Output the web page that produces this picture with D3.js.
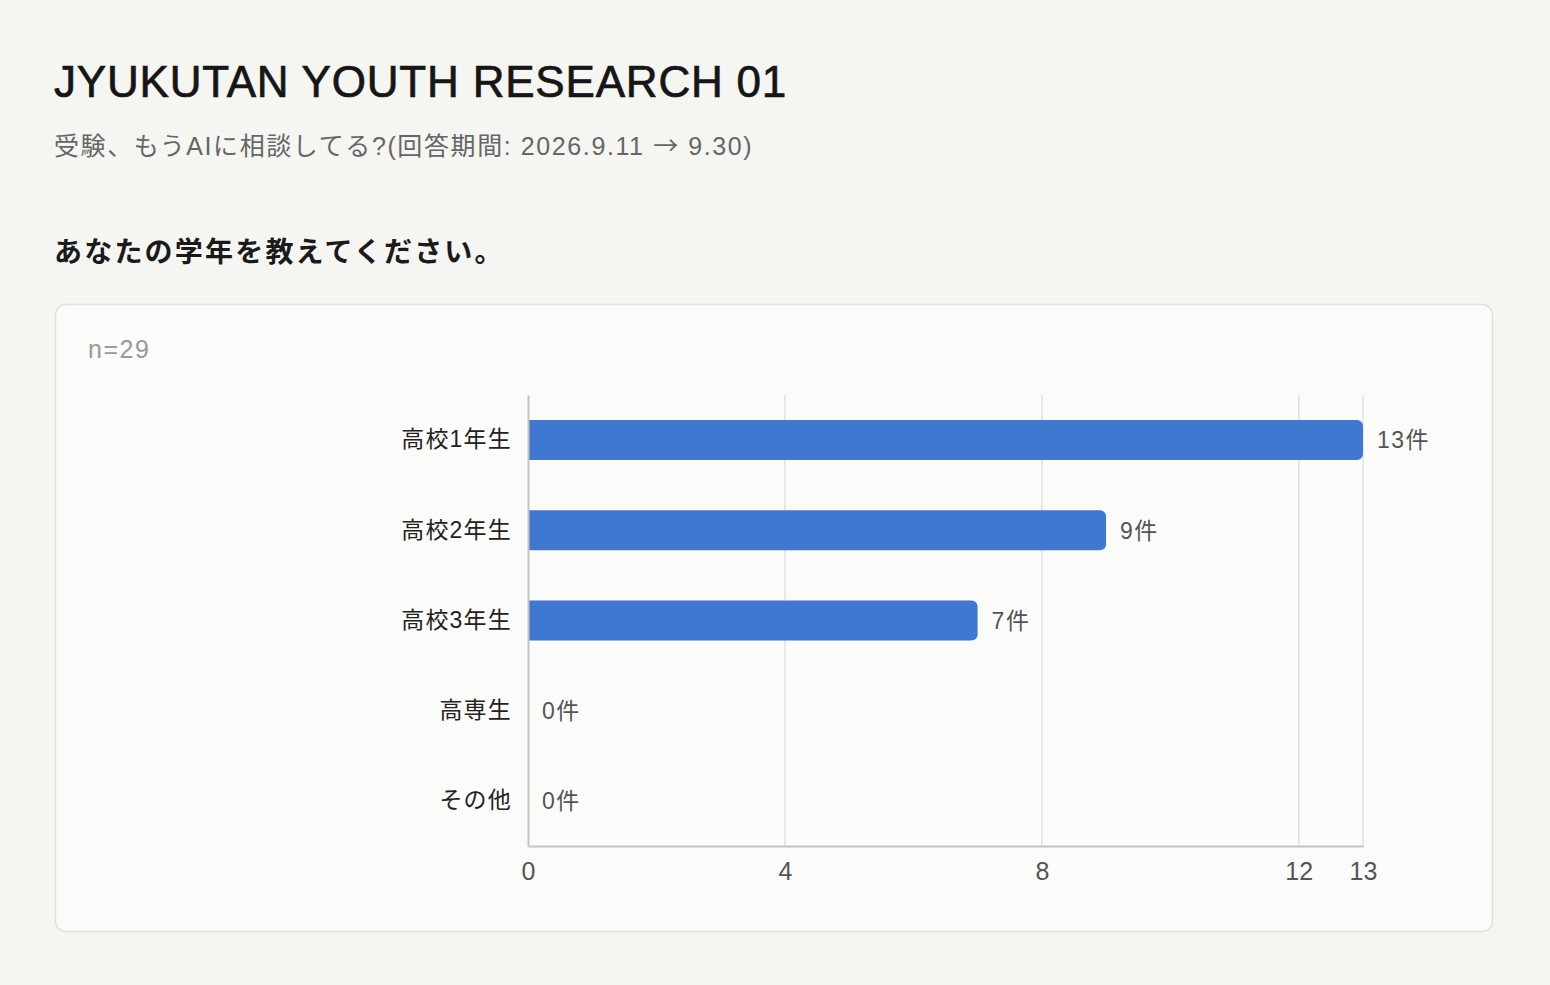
<!DOCTYPE html>
<html>
<head>
<meta charset="utf-8">
<script src="https://cdn.jsdelivr.net/npm/d3@7"></script>
<style>
  html, body { margin: 0; padding: 0; background: #f5f5f2; }
  body { width: 1550px; height: 985px; overflow: hidden; }
  text { font-family: "Liberation Sans", "Noto Sans CJK JP", sans-serif; }
</style>
</head>
<body>
<div id="graf"></div>
<script>
const titulo = 'JYUKUTAN YOUTH RESEARCH 01'
const subtitulo = ['受験、もうAIに相談してる?(回答期間: 2026.9.11 ', '→', ' 9.30)']
const pregunta = 'あなたの学年を教えてください。'
const muestra = 'n=29'

const categorias = ['高校1年生', '高校2年生', '高校3年生', '高専生', 'その他']
const valores = [13, 9, 7, 0, 0]
const ticks = [0, 4, 8, 12, 13]

const anchoTotal = 1550
const altoTotal = 985

const svg = d3
  .select('#graf')
  .append('svg')
  .attr('width', anchoTotal)
  .attr('height', altoTotal)

// encabezado
svg.append('text')
  .attr('x', 54).attr('y', 97)
  .attr('font-size', 44)
  .attr('fill', '#161616')
  .attr('stroke', '#161616').attr('stroke-width', 0.7)
  .attr('letter-spacing', 0.8)
  .text(titulo)

const sub = svg.append('text')
  .attr('x', 54).attr('y', 155)
  .attr('font-size', 25)
  .attr('letter-spacing', 1.6)
  .attr('fill', '#666')
sub.selectAll('tspan')
  .data(subtitulo)
  .join('tspan')
  .style('font-family', (d, i) => (i === 1 ? '"Noto Sans CJK JP", sans-serif' : null))
  .text((d) => d)

svg.append('text')
  .attr('x', 54).attr('y', 262)
  .attr('font-size', 28).attr('font-weight', 700)
  .attr('letter-spacing', 2.2)
  .attr('fill', '#1a1a1a')
  .style('font-family', '"Noto Sans CJK JP", sans-serif')
  .text(pregunta)

// panel
svg.append('rect')
  .attr('x', 55.5).attr('y', 304.5)
  .attr('width', 1437).attr('height', 627)
  .attr('rx', 10)
  .attr('fill', '#fbfbf9')
  .attr('stroke', '#e0e0dc')
  .attr('stroke-width', 1.5)

svg.append('text')
  .attr('x', 88).attr('y', 358)
  .attr('font-size', 25)
  .attr('letter-spacing', 1.5)
  .attr('fill', '#999')
  .text(muestra)

const margin = { top: 395, left: 528 }
const ancho = 1363 - 528
const alto = 846 - 395

const g = svg.append('g').attr('transform', `translate(${margin.left}, ${margin.top})`)

const x = d3.scaleLinear().domain([0, 13]).range([0, ancho])
const y = d3.scaleBand().domain(categorias).range([0, alto]).paddingInner(0.556).paddingOuter(0.278)

// grilla
g.selectAll('.grid')
  .data(ticks.filter((t) => t > 0))
  .join('line')
  .attr('x1', (d) => x(d)).attr('x2', (d) => x(d))
  .attr('y1', 0).attr('y2', alto)
  .attr('stroke', '#e0e0e0')
  .attr('stroke-width', 1.5)

// barras con esquina derecha redondeada
const r = 6
const h = y.bandwidth()
g.selectAll('.bar')
  .data(valores.map((v, i) => ({ c: categorias[i], v })))
  .join('path')
  .attr('fill', '#4077d0')
  .attr('d', (d) => {
    const w = x(d.v)
    if (w <= 0) return ''
    const y0 = y(d.c)
    return `M0,${y0}H${w - r}A${r},${r} 0 0 1 ${w},${y0 + r}V${y0 + h - r}A${r},${r} 0 0 1 ${w - r},${y0 + h}H0Z`
  })

// etiquetas de valor
g.selectAll('.val')
  .data(valores.map((v, i) => ({ c: categorias[i], v })))
  .join('text')
  .attr('x', (d) => x(d.v) + 14)
  .attr('y', (d) => y(d.c) + h / 2)
  .attr('dy', '0.36em')
  .attr('font-size', 23)
  .attr('letter-spacing', 1.5)
  .attr('fill', '#555')
  .text((d) => `${d.v}件`)

// ejes
const xAxis = g.append('g')
  .attr('transform', `translate(0, ${alto})`)
  .call(d3.axisBottom(x).tickValues(ticks).tickSize(0).tickPadding(16))
xAxis.select('.domain').attr('stroke', '#c4c4bd').attr('stroke-width', 2)
xAxis.selectAll('text')
  .attr('font-size', 25)
  .attr('fill', '#555')
  .style('font-family', '"Liberation Sans", sans-serif')

const yAxis = g.append('g')
  .call(d3.axisLeft(y).tickSize(0).tickPadding(16))
yAxis.select('.domain').attr('stroke', '#c4c4bd').attr('stroke-width', 2)
yAxis.selectAll('text')
  .attr('font-size', 23)
  .attr('letter-spacing', 1.2)
  .attr('fill', '#222')
  .style('font-family', '"Liberation Sans", "Noto Sans CJK JP", sans-serif')
</script>
</body>
</html>
